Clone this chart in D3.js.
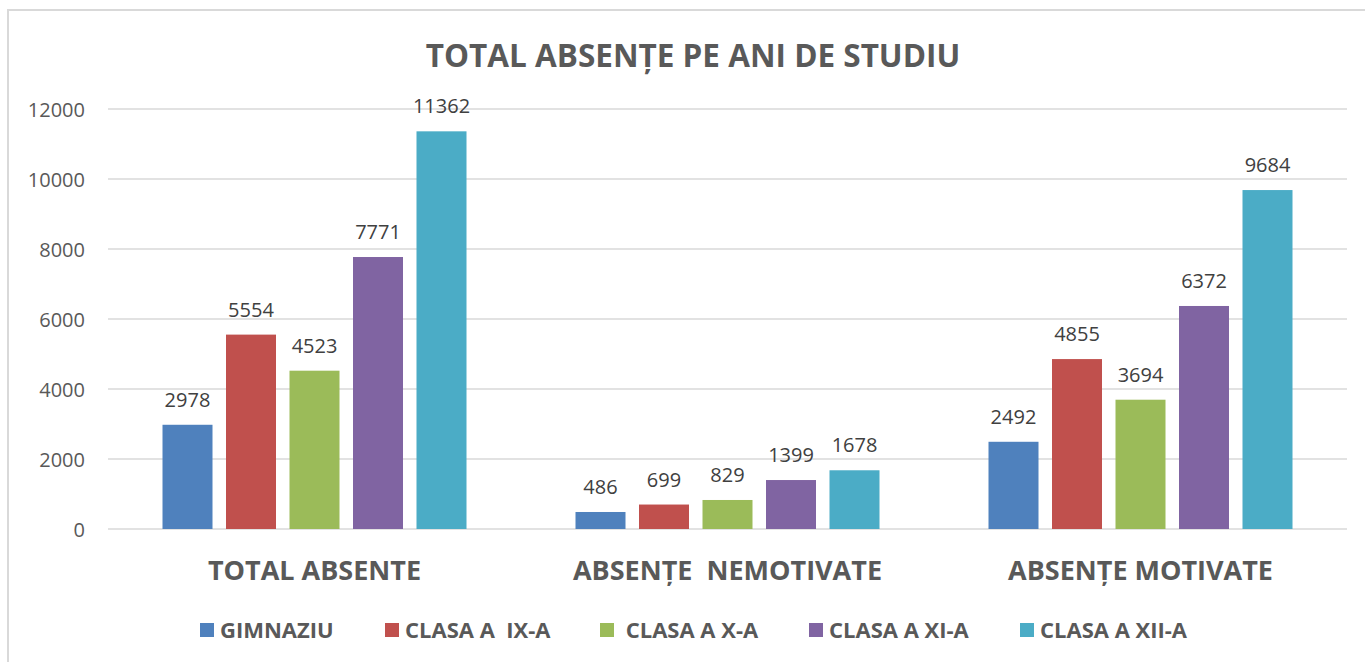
<!DOCTYPE html>
<html>
<head>
<meta charset="utf-8">
<script src="https://cdn.jsdelivr.net/npm/d3@7"></script>
<style>
  body { margin: 0; background: #fff; }
  text { font-family: "Open Sans", sans-serif; }
</style>
</head>
<body>
<div id="chart"></div>
<script>
// data
const categories = ["TOTAL ABSENTE", "ABSENȚE  NEMOTIVATE", "ABSENȚE MOTIVATE"];
const series = ["GIMNAZIU", "CLASA A  IX-A", " CLASA A X-A", "CLASA A XI-A", "CLASA A XII-A"];
const gimnaziu = [2978, 486, 2492];
const clasa9 = [5554, 699, 4855];
const clasa10 = [4523, 829, 3694];
const clasa11 = [7771, 1399, 6372];
const clasa12 = [11362, 1678, 9684];
const yTicks = [0, 2000, 4000, 6000, 8000, 10000, 12000];
const colors = ["#4f81bd", "#c0504d", "#9bbb59", "#8064a2", "#4bacc6"];

const values = [gimnaziu, clasa9, clasa10, clasa11, clasa12];
const rows = [];
series.forEach((s, si) => {
    categories.forEach((c, ci) => {
        rows.push({ series: s, si: si, cat: c, value: values[si][ci] });
    });
});

const width = 1365, height = 662;
const plot = { left: 108, right: 1347, top: 109, bottom: 529 };

const svg = d3.select("#chart").append("svg")
    .attr("width", width)
    .attr("height", height);

// chart border (only top and left visible)
svg.append("path")
    .attr("d", `M8,${height + 5} L8,10 L${width + 5},10`)
    .attr("fill", "none")
    .attr("stroke", "#d9d9d9")
    .attr("stroke-width", 2);

const x0 = d3.scaleBand()
    .domain(categories)
    .range([plot.left, plot.right])
    .padding(0);

const x1 = d3.scaleBand()
    .domain(series)
    .range([54.5, x0.bandwidth() - 54.5])
    .paddingInner(0.2126)
    .paddingOuter(0);

const y = d3.scaleLinear()
    .domain([0, 12000])
    .range([plot.bottom, plot.top]);

// gridlines
svg.append("g")
    .selectAll("line")
    .data(yTicks)
    .enter().append("line")
    .attr("x1", plot.left)
    .attr("x2", plot.right)
    .attr("y1", d => y(d))
    .attr("y2", d => y(d))
    .attr("stroke", "#d9d9d9")
    .attr("stroke-width", 1.5);

// y axis labels
const yAxis = d3.axisLeft(y).tickValues(yTicks).tickFormat(d3.format("d")).tickSize(0).tickPadding(0);
const yg = svg.append("g")
    .attr("transform", `translate(85,0)`)
    .call(yAxis);
yg.select(".domain").remove();
yg.selectAll("text")
    .attr("dy", "0.35em")
    .style("font-family", "'Open Sans', sans-serif")
    .style("font-size", "20px")
    .attr("fill", "#595959");

// bars
svg.append("g")
    .selectAll("rect")
    .data(rows)
    .enter().append("rect")
    .attr("x", d => x0(d.cat) + x1(d.series))
    .attr("y", d => y(d.value))
    .attr("width", x1.bandwidth())
    .attr("height", d => y(0) - y(d.value))
    .attr("fill", d => colors[d.si]);

// data labels
svg.append("g")
    .selectAll("text")
    .data(rows)
    .enter().append("text")
    .attr("x", d => x0(d.cat) + x1(d.series) + x1.bandwidth() / 2)
    .attr("y", d => y(d.value) - 18)
    .attr("text-anchor", "middle")
    .style("font-size", "20px")
    .attr("fill", "#404040")
    .text(d => d.value);

// category labels
svg.append("g")
    .selectAll("text")
    .data(categories)
    .enter().append("text")
    .attr("x", d => x0(d) + x0.bandwidth() / 2)
    .attr("y", 580)
    .attr("text-anchor", "middle")
    .style("font-size", "27px")
    .style("font-weight", "bold")
    .style("white-space", "pre")
    .attr("fill", "#595959")
    .text(d => d);

// title
svg.append("text")
    .attr("x", 693)
    .attr("y", 67)
    .attr("text-anchor", "middle")
    .style("font-size", "31.5px")
    .style("font-weight", "bold")
    .attr("fill", "#595959")
    .text("TOTAL ABSENȚE PE ANI DE STUDIU");

// legend
const legendX = [200, 385, 600, 809, 1020];
const legend = svg.append("g");
series.forEach((s, i) => {
    legend.append("rect")
        .attr("x", legendX[i])
        .attr("y", 623)
        .attr("width", 14)
        .attr("height", 14)
        .attr("fill", colors[i]);
    legend.append("text")
        .attr("x", legendX[i] + 20)
        .attr("y", 638)
        .style("font-size", "22px")
        .style("font-weight", "bold")
        .style("white-space", "pre")
        .attr("fill", "#595959")
        .text(s);
});
</script>
</body>
</html>
